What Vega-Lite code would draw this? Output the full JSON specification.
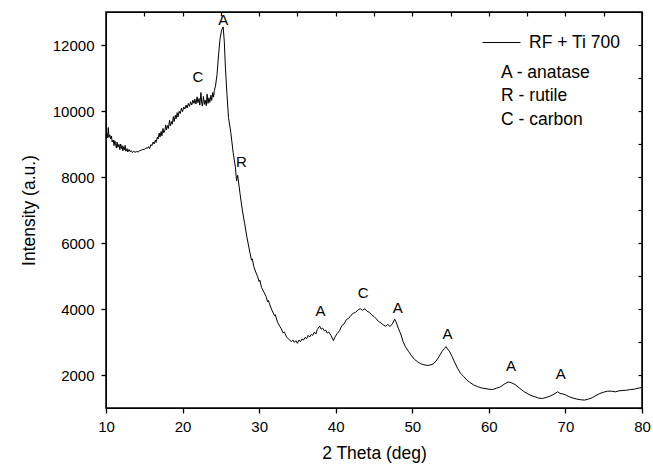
{
  "$schema": "https://vega.github.io/schema/vega-lite/v6.json",
  "width": 536,
  "height": 396,
  "autosize": {"type": "none"},
  "padding": {"left": 106, "top": 12, "right": 11, "bottom": 61},
  "background": "white",
  "config": {
    "view": {"stroke": "black", "strokeWidth": 1.5},
    "font": "Liberation Sans",
    "axis": {"grid": false, "domainColor": "black", "labelColor": "black", "titleColor": "black", "labelFontSize": 15, "titleFontSize": 17.5, "titleFontWeight": "normal"}
  },
  "datasets": {
    "curve": [
      {"t":10.0,"I":9250},{"t":10.12,"I":9330},{"t":10.2,"I":9180},{"t":10.3,"I":9500},{"t":10.38,"I":9200},{"t":10.5,"I":9280},{"t":10.6,"I":9150},{"t":10.72,"I":9240},{"t":10.8,"I":9060},{"t":10.95,"I":9120},{"t":11.05,"I":8950},{"t":11.15,"I":9100},{"t":11.25,"I":9010},{"t":11.35,"I":8880},{"t":11.45,"I":9060},{"t":11.55,"I":8900},{"t":11.7,"I":8990},{"t":11.8,"I":8830},{"t":11.92,"I":9000},{"t":12.0,"I":8860},{"t":12.1,"I":8950},{"t":12.2,"I":8790},{"t":12.3,"I":8920},{"t":12.42,"I":8820},{"t":12.5,"I":8960},{"t":12.6,"I":8780},{"t":12.75,"I":8860},{"t":12.85,"I":8760},{"t":13.0,"I":8830},{"t":13.15,"I":8770},{"t":13.3,"I":8800},{"t":13.45,"I":8740},{"t":13.6,"I":8780},{"t":13.8,"I":8750},{"t":14.0,"I":8770},{"t":14.2,"I":8760},{"t":14.4,"I":8800},{"t":14.6,"I":8810},{"t":14.8,"I":8840},{"t":15.0,"I":8830},{"t":15.2,"I":8880},{"t":15.4,"I":8870},{"t":15.55,"I":8920},{"t":15.7,"I":8860},{"t":15.85,"I":8980},{"t":16.0,"I":8950},{"t":16.15,"I":9060},{"t":16.3,"I":9000},{"t":16.45,"I":9120},{"t":16.55,"I":9050},{"t":16.7,"I":9210},{"t":16.8,"I":9150},{"t":16.95,"I":9330},{"t":17.05,"I":9210},{"t":17.2,"I":9380},{"t":17.3,"I":9250},{"t":17.45,"I":9470},{"t":17.55,"I":9340},{"t":17.7,"I":9420},{"t":17.8,"I":9580},{"t":17.9,"I":9430},{"t":18.05,"I":9560},{"t":18.15,"I":9470},{"t":18.3,"I":9720},{"t":18.4,"I":9550},{"t":18.55,"I":9680},{"t":18.65,"I":9600},{"t":18.8,"I":9830},{"t":18.9,"I":9680},{"t":19.05,"I":9870},{"t":19.15,"I":9760},{"t":19.3,"I":9950},{"t":19.4,"I":9820},{"t":19.55,"I":9990},{"t":19.7,"I":9920},{"t":19.85,"I":10090},{"t":20.0,"I":9980},{"t":20.15,"I":10120},{"t":20.3,"I":10060},{"t":20.45,"I":10180},{"t":20.6,"I":10090},{"t":20.75,"I":10230},{"t":20.9,"I":10140},{"t":21.05,"I":10280},{"t":21.2,"I":10180},{"t":21.35,"I":10330},{"t":21.5,"I":10230},{"t":21.6,"I":10360},{"t":21.75,"I":10210},{"t":21.9,"I":10430},{"t":22.0,"I":10250},{"t":22.15,"I":10380},{"t":22.25,"I":10180},{"t":22.4,"I":10560},{"t":22.5,"I":10240},{"t":22.6,"I":10150},{"t":22.72,"I":10440},{"t":22.85,"I":10200},{"t":22.95,"I":10330},{"t":23.1,"I":10160},{"t":23.2,"I":10510},{"t":23.32,"I":10230},{"t":23.45,"I":10400},{"t":23.55,"I":10260},{"t":23.7,"I":10480},{"t":23.8,"I":10320},{"t":23.95,"I":10560},{"t":24.05,"I":10420},{"t":24.15,"I":10620},{"t":24.3,"I":10760},{"t":24.5,"I":11100},{"t":24.7,"I":11700},{"t":24.9,"I":12200},{"t":25.1,"I":12450},{"t":25.3,"I":12550},{"t":25.45,"I":12100},{"t":25.6,"I":11300},{"t":25.8,"I":10500},{"t":26.0,"I":9800},{"t":26.3,"I":9350},{"t":26.6,"I":8750},{"t":26.9,"I":8300},{"t":27.05,"I":7880},{"t":27.2,"I":8050},{"t":27.5,"I":7500},{"t":27.8,"I":7000},{"t":28.1,"I":6600},{"t":28.4,"I":6180},{"t":28.8,"I":5700},{"t":29.0,"I":5480},{"t":29.1,"I":5520},{"t":29.3,"I":5290},{"t":29.5,"I":5150},{"t":29.8,"I":4980},{"t":30.0,"I":4830},{"t":30.1,"I":4870},{"t":30.3,"I":4660},{"t":30.6,"I":4520},{"t":30.9,"I":4380},{"t":31.1,"I":4220},{"t":31.2,"I":4260},{"t":31.5,"I":4060},{"t":31.7,"I":3950},{"t":32.0,"I":3800},{"t":32.1,"I":3830},{"t":32.4,"I":3600},{"t":32.7,"I":3470},{"t":32.9,"I":3400},{"t":33.1,"I":3280},{"t":33.3,"I":3300},{"t":33.6,"I":3140},{"t":33.8,"I":3100},{"t":34.0,"I":3060},{"t":34.2,"I":3010},{"t":34.4,"I":3060},{"t":34.6,"I":2990},{"t":34.8,"I":3040},{"t":35.0,"I":2960},{"t":35.2,"I":3060},{"t":35.4,"I":3010},{"t":35.6,"I":3090},{"t":35.8,"I":3060},{"t":36.0,"I":3140},{"t":36.2,"I":3100},{"t":36.4,"I":3200},{"t":36.6,"I":3150},{"t":36.8,"I":3230},{"t":37.0,"I":3200},{"t":37.2,"I":3300},{"t":37.4,"I":3240},{"t":37.6,"I":3380},{"t":37.9,"I":3480},{"t":38.1,"I":3390},{"t":38.3,"I":3420},{"t":38.5,"I":3340},{"t":38.7,"I":3360},{"t":38.9,"I":3270},{"t":39.1,"I":3300},{"t":39.4,"I":3190},{"t":39.7,"I":3040},{"t":39.9,"I":3150},{"t":40.2,"I":3260},{"t":40.5,"I":3340},{"t":40.8,"I":3500},{"t":41.1,"I":3550},{"t":41.4,"I":3680},{"t":41.7,"I":3720},{"t":42.0,"I":3810},{"t":42.3,"I":3870},{"t":42.6,"I":3900},{"t":42.9,"I":3970},{"t":43.2,"I":4010},{"t":43.5,"I":3960},{"t":43.8,"I":4010},{"t":44.1,"I":3930},{"t":44.4,"I":3900},{"t":44.7,"I":3820},{"t":45.0,"I":3770},{"t":45.3,"I":3700},{"t":45.6,"I":3620},{"t":45.9,"I":3580},{"t":46.2,"I":3520},{"t":46.5,"I":3480},{"t":46.8,"I":3530},{"t":47.1,"I":3470},{"t":47.4,"I":3550},{"t":47.7,"I":3690},{"t":47.9,"I":3600},{"t":48.2,"I":3400},{"t":48.5,"I":3240},{"t":48.8,"I":3010},{"t":49.1,"I":2860},{"t":49.5,"I":2720},{"t":49.9,"I":2580},{"t":50.3,"I":2470},{"t":50.7,"I":2400},{"t":51.1,"I":2340},{"t":51.5,"I":2310},{"t":51.9,"I":2290},{"t":52.3,"I":2300},{"t":52.7,"I":2330},{"t":53.1,"I":2420},{"t":53.5,"I":2560},{"t":53.9,"I":2720},{"t":54.2,"I":2800},{"t":54.4,"I":2860},{"t":54.6,"I":2790},{"t":54.9,"I":2700},{"t":55.2,"I":2560},{"t":55.5,"I":2400},{"t":55.9,"I":2210},{"t":56.3,"I":2050},{"t":56.7,"I":1960},{"t":57.1,"I":1850},{"t":57.5,"I":1780},{"t":58.0,"I":1700},{"t":58.5,"I":1650},{"t":59.0,"I":1610},{"t":59.5,"I":1590},{"t":60.0,"I":1570},{"t":60.5,"I":1560},{"t":61.0,"I":1600},{"t":61.5,"I":1640},{"t":62.0,"I":1720},{"t":62.5,"I":1790},{"t":63.0,"I":1760},{"t":63.5,"I":1700},{"t":64.0,"I":1600},{"t":64.5,"I":1510},{"t":65.0,"I":1440},{"t":65.5,"I":1380},{"t":66.0,"I":1340},{"t":66.5,"I":1300},{"t":67.0,"I":1290},{"t":67.5,"I":1320},{"t":68.0,"I":1360},{"t":68.5,"I":1420},{"t":69.0,"I":1490},{"t":69.3,"I":1440},{"t":69.6,"I":1430},{"t":70.0,"I":1400},{"t":70.5,"I":1340},{"t":71.0,"I":1300},{"t":71.5,"I":1270},{"t":72.0,"I":1250},{"t":72.5,"I":1240},{"t":73.0,"I":1270},{"t":73.5,"I":1310},{"t":74.0,"I":1380},{"t":74.5,"I":1440},{"t":75.0,"I":1480},{"t":75.5,"I":1510},{"t":76.0,"I":1510},{"t":76.5,"I":1490},{"t":77.0,"I":1520},{"t":77.5,"I":1530},{"t":78.0,"I":1540},{"t":78.5,"I":1560},{"t":79.0,"I":1570},{"t":79.5,"I":1600},{"t":80.0,"I":1620}
    ],
    "peaks": [
      {"t":25.3,"I":12750,"label":"A"},
      {"t":22.0,"I":11020,"label":"C"},
      {"t":27.7,"I":8445,"label":"R"},
      {"t":38.0,"I":3930,"label":"A"},
      {"t":43.6,"I":4475,"label":"C"},
      {"t":48.1,"I":4040,"label":"A"},
      {"t":54.6,"I":3255,"label":"A"},
      {"t":62.9,"I":2264,"label":"A"},
      {"t":69.4,"I":2020,"label":"A"}
    ],
    "key": [
      {"t":61.6,"I":11140,"label":"A - anatase"},
      {"t":61.6,"I":10440,"label":"R - rutile"},
      {"t":61.6,"I":9715,"label":"C - carbon"}
    ]
  },
  "layer": [
    {
      "data": {"name": "curve"},
      "mark": {"type": "line", "strokeWidth": 1, "color": "black"},
      "encoding": {
        "x": {"field": "t", "type": "quantitative", "scale": {"domain": [10, 80], "nice": false, "zero": false},
          "axis": {"orient": "bottom", "title": "2 Theta (deg)", "tickCount": 7, "tickColor": "black", "tickSize": 5, "tickWidth": 1.3, "labelFlush": false, "labelOverlap": false, "labelPadding": 6, "titlePadding": 10}},
        "y": {"field": "I", "type": "quantitative", "scale": {"domain": [1000, 13000], "nice": false, "zero": false},
          "axis": {"orient": "left", "title": "Intensity (a.u.)", "tickCount": 6, "format": "d", "tickColor": "black", "tickSize": 5, "tickWidth": 1.3, "labelOverlap": false, "labelPadding": 7, "titlePadding": 14}},
        "color": {"datum": "RF + Ti 700", "type": "nominal", "scale": {"range": ["black"]},
          "legend": {"title": null, "orient": "none", "legendX": 376, "legendY": 11, "symbolType": "stroke", "symbolSize": 1444, "symbolStrokeWidth": 1, "symbolStrokeColor": "#555", "labelFontSize": 17.5, "labelFont": "Liberation Sans", "labelColor": "black", "labelOffset": 8, "padding": 0}}
      }
    },
    {
      "data": {"name": "peaks"},
      "mark": {"type": "text", "fontSize": 15, "font": "Liberation Sans", "color": "black", "baseline": "middle", "align": "center"},
      "encoding": {
        "x": {"field": "t", "type": "quantitative", "axis": {"orient": "top", "title": null, "labels": false, "tickCount": 14, "tickColor": "black", "tickSize": -4, "tickWidth": 1.2}},
        "y": {"field": "I", "type": "quantitative", "axis": {"orient": "right", "title": null, "labels": false, "tickCount": 12, "tickColor": "black", "tickSize": -4, "tickWidth": 1.2}},
        "text": {"field": "label"}
      }
    },
    {
      "data": {"name": "key"},
      "mark": {"type": "text", "fontSize": 17.5, "font": "Liberation Sans", "color": "black", "baseline": "middle", "align": "left"},
      "encoding": {
        "x": {"field": "t", "type": "quantitative", "axis": null},
        "y": {"field": "I", "type": "quantitative", "axis": null},
        "text": {"field": "label"}
      }
    }
  ],
  "resolve": {"axis": {"x": "independent", "y": "independent"}}
}
